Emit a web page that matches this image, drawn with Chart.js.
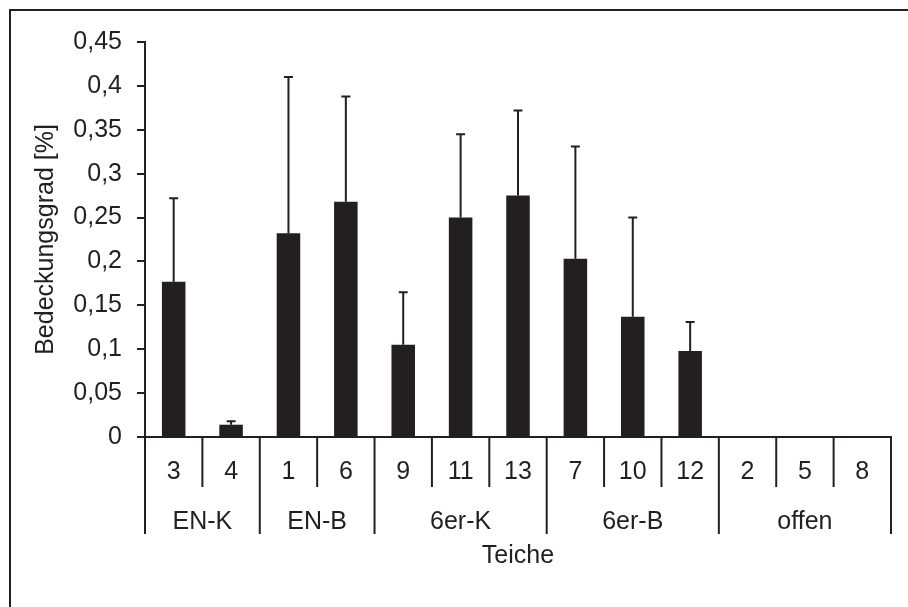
<!DOCTYPE html>
<html>
<head>
<meta charset="utf-8">
<script src="https://cdn.jsdelivr.net/npm/chart.js@4.4.0/dist/chart.umd.min.js"></script>
<style>
  html, body { margin: 0; padding: 0; background: #ffffff; }
  #wrap { width: 908px; height: 607px; }
</style>
</head>
<body>
<div id="wrap"><canvas id="chart_1"></canvas></div>
<script>
// Teiche (ponds) and their groups
const teiche = ["3", "4", "1", "6", "9", "11", "13", "7", "10", "12", "2", "5", "8"];
const gruppen = ["EN-K", "EN-B", "6er-K", "6er-B", "offen"];
const gruppenGroesse = [2, 2, 3, 3, 3];
// mean coverage and upper error (std)
const bedeckung = [0.177, 0.014, 0.232, 0.268, 0.105, 0.25, 0.275, 0.203, 0.137, 0.098, 0, 0, 0];
const fehler = [0.095, 0.004, 0.178, 0.12, 0.06, 0.095, 0.097, 0.128, 0.113, 0.033, 0, 0, 0];
const yTicks = [0, 0.05, 0.1, 0.15, 0.2, 0.25, 0.3, 0.35, 0.4, 0.45];

const INK = "#231f20";
const FONT = "'Liberation Sans', Arial, sans-serif";
const FONT_SIZE = 25;

function formatComma(value) {
  return String(Math.round(value * 100) / 100).replace(".", ",");
}

// outer frame (only top and left edges are inside the picture)
const framePlugin = {
  id: "frame",
  beforeDraw(chart) {
    const ctx = chart.ctx;
    ctx.save();
    ctx.strokeStyle = INK;
    ctx.lineWidth = 2;
    ctx.strokeRect(10, 10, 1000, 1000);
    ctx.restore();
  },
};

// error bars, upper side only
const errorBarPlugin = {
  id: "errorBars",
  afterDatasetsDraw(chart) {
    const ctx = chart.ctx;
    const x = chart.scales.x;
    const y = chart.scales.y;
    ctx.save();
    ctx.strokeStyle = INK;
    ctx.lineWidth = 2;
    fehler.forEach((err, i) => {
      if (!err) return;
      const px = x.getPixelForValue(i);
      const yTop = y.getPixelForValue(bedeckung[i] + err);
      const yBar = y.getPixelForValue(bedeckung[i]);
      ctx.beginPath();
      ctx.moveTo(px, yBar);
      ctx.lineTo(px, yTop);
      ctx.moveTo(px - 4.5, yTop);
      ctx.lineTo(px + 4.5, yTop);
      ctx.stroke();
    });
    ctx.restore();
  },
};

// two-level category axis below the x axis
const multiAxisPlugin = {
  id: "multiAxis",
  afterDraw(chart) {
    const ctx = chart.ctx;
    const x = chart.scales.x;
    const base = chart.chartArea.bottom;
    const half = (x.getPixelForValue(1) - x.getPixelForValue(0)) / 2;
    ctx.save();
    ctx.strokeStyle = INK;
    ctx.fillStyle = INK;
    ctx.lineWidth = 2;
    ctx.font = FONT_SIZE + "px " + FONT;
    ctx.textAlign = "center";
    ctx.textBaseline = "middle";

    // group boundaries (indices where a group starts)
    const starts = [0];
    gruppenGroesse.forEach((n, g) => starts.push(starts[g] + n));

    for (let i = 0; i <= teiche.length; i++) {
      const px = x.getPixelForValue(i) - half;
      const longLine = starts.includes(i);
      ctx.beginPath();
      ctx.moveTo(px, base);
      ctx.lineTo(px, longLine ? base + 97 : base + 50);
      ctx.stroke();
    }

    teiche.forEach((t, i) => {
      ctx.fillText(t, x.getPixelForValue(i), base + 35);
    });

    gruppen.forEach((g, k) => {
      const a = x.getPixelForValue(starts[k]) - half;
      const b = x.getPixelForValue(starts[k + 1] - 1) + half;
      ctx.fillText(g, (a + b) / 2, base + 85);
    });
    ctx.restore();
  },
};

const ctx = document.getElementById("chart_1").getContext("2d");

window.myChart = new Chart(ctx, {
  type: "bar",
  data: {
    labels: teiche,
    datasets: [
      {
        label: "Bedeckungsgrad",
        data: bedeckung,
        backgroundColor: INK,
        borderWidth: 0,
        barPercentage: 0.41,
        categoryPercentage: 1,
      },
    ],
  },
  options: {
    responsive: true,
    maintainAspectRatio: false,
    animation: false,
    layout: {
      padding: { left: 0, top: 42, right: 17, bottom: 0 },
    },
    scales: {
      x: {
        grid: { display: false },
        border: { display: true, color: INK, width: 2 },
        ticks: { display: false },
        title: {
          display: true,
          text: "Teiche",
          color: INK,
          font: { family: FONT, size: FONT_SIZE },
          padding: { top: 0, bottom: 36 },
        },
        afterFit(scale) {
          scale.height = 170;
        },
      },
      y: {
        min: 0,
        max: 0.45,
        afterBuildTicks(scale) {
          scale.ticks = yTicks.map((v) => ({ value: v }));
        },
        grid: {
          drawOnChartArea: false,
          color: INK,
          lineWidth: 2,
          tickLength: 8,
        },
        border: { display: true, color: INK, width: 2 },
        ticks: {
          color: INK,
          padding: 15,
          font: { family: FONT, size: FONT_SIZE },
          callback: function (value) {
            return formatComma(value);
          },
        },
        title: {
          display: true,
          text: "Bedeckungsgrad [%]",
          color: INK,
          font: { family: FONT, size: FONT_SIZE },
          padding: { top: 31, bottom: 0 },
        },
        afterFit(scale) {
          scale.width = 145;
        },
      },
    },
    plugins: {
      legend: { display: false },
      tooltip: { enabled: false },
    },
  },
  plugins: [framePlugin, errorBarPlugin, multiAxisPlugin],
});
</script>
</body>
</html>
